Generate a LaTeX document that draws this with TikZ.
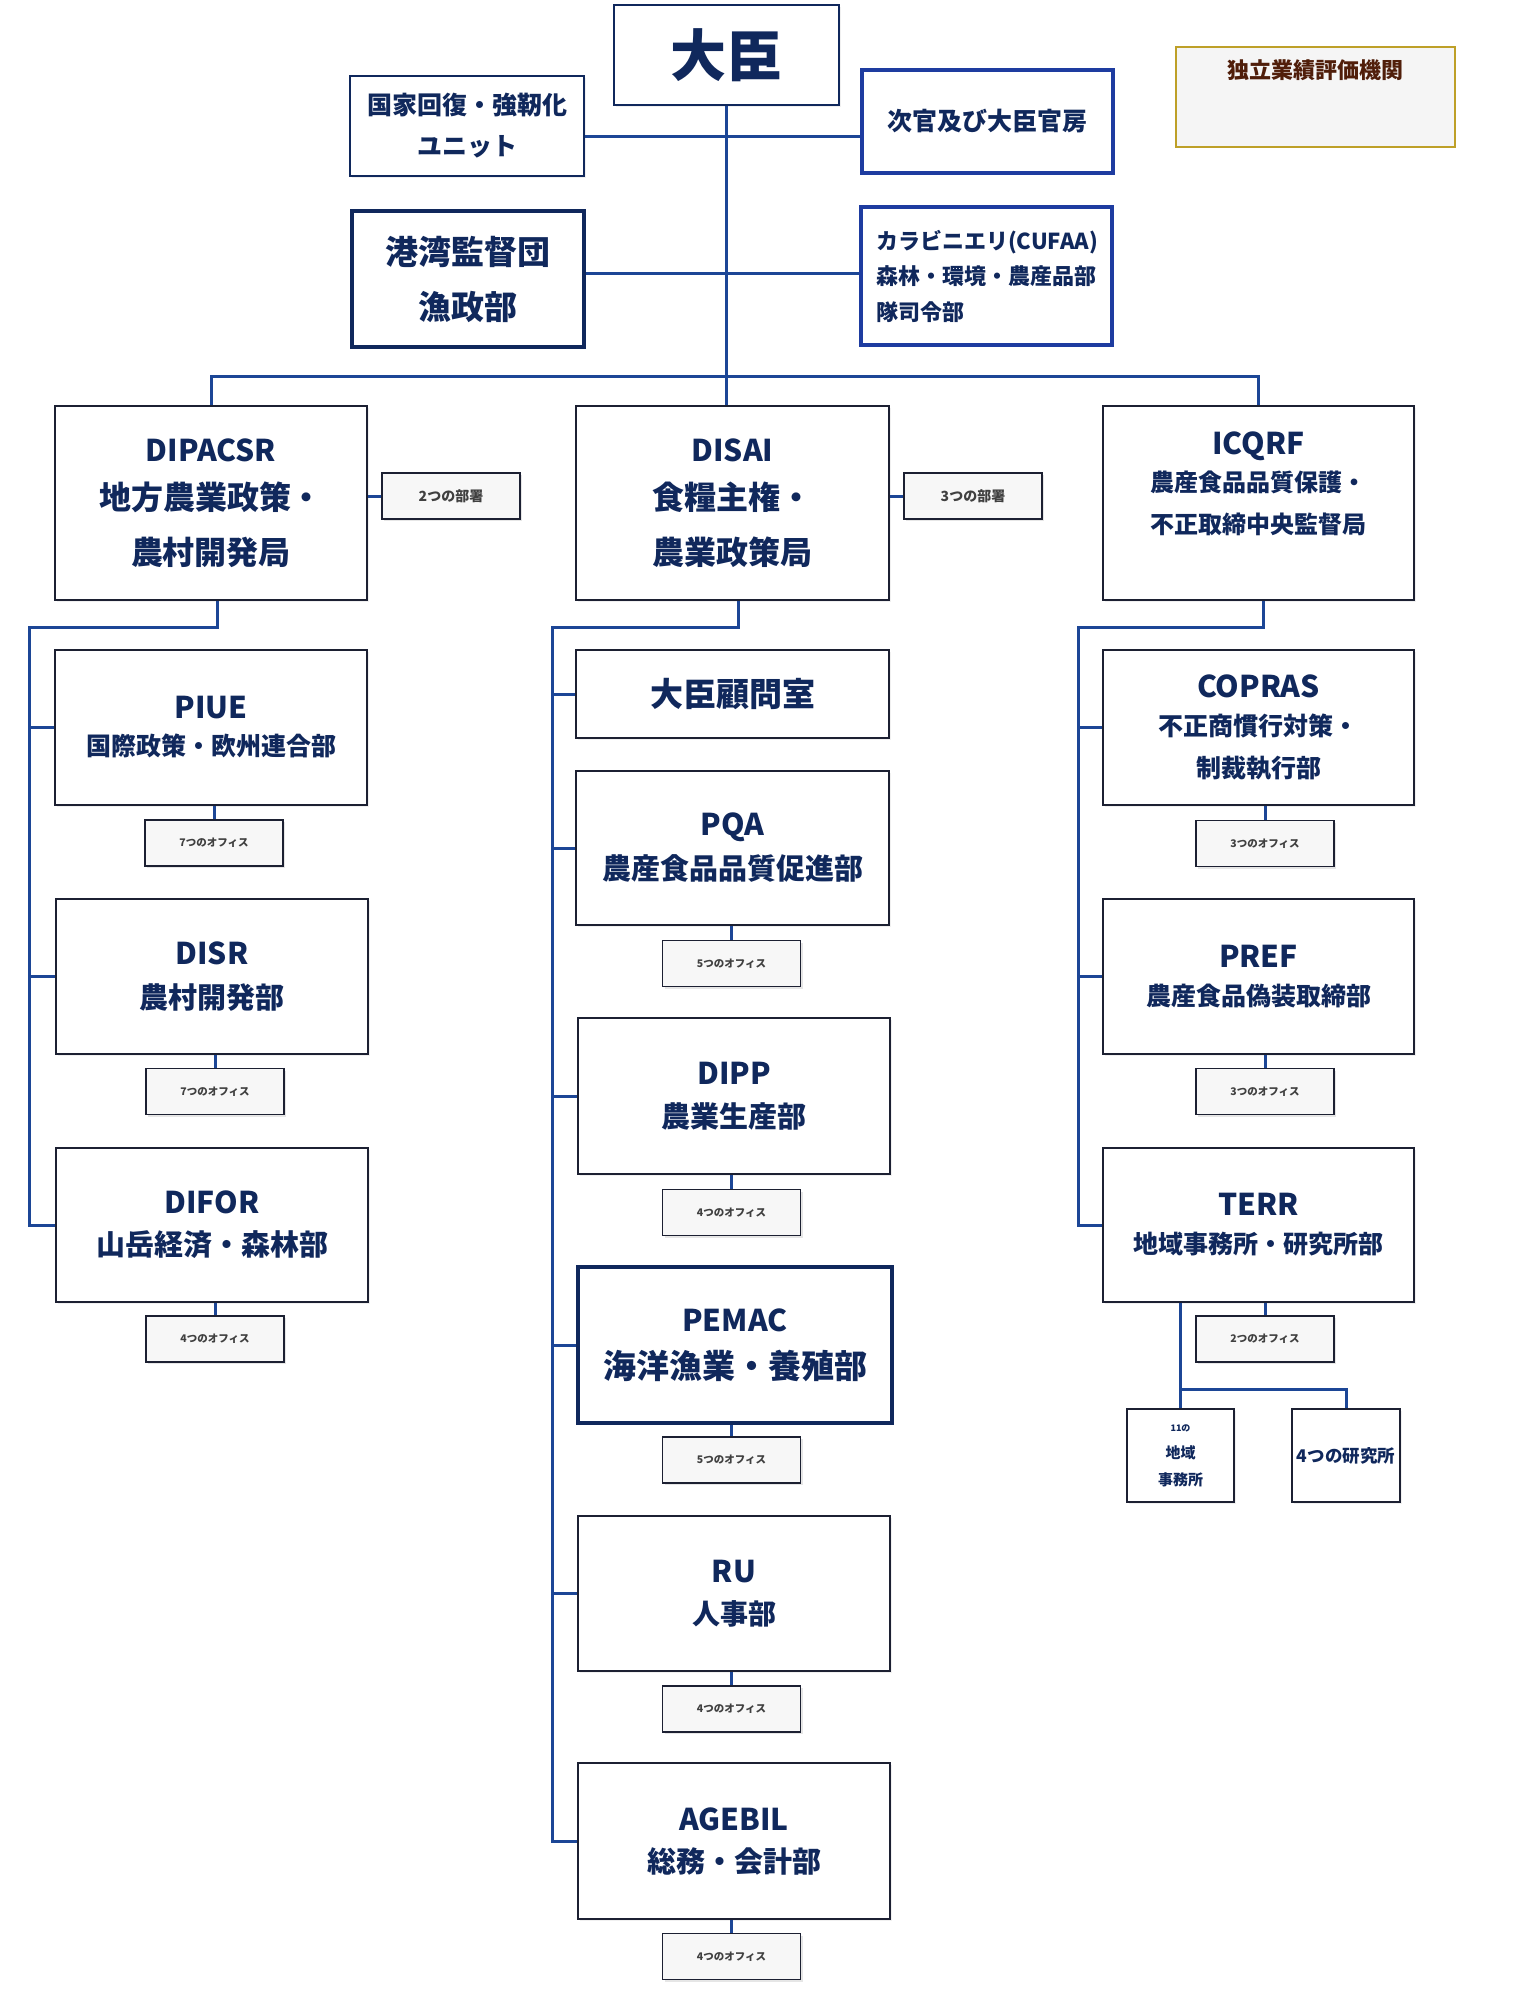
\documentclass[tikz,border=0pt]{standalone}
\usepackage{fontspec}
\setmainfont{Noto Sans CJK JP}
\usetikzlibrary{shadows}

\definecolor{navy}{RGB}{16,40,92}
\definecolor{boxline}{RGB}{28,32,50}
\definecolor{linkblue}{RGB}{28,70,150}
\definecolor{frameblue}{RGB}{30,60,160}
\definecolor{oivgold}{RGB}{190,160,40}
\definecolor{oivtext}{RGB}{80,30,10}

\newcommand\acr[1]{{\fontsize{30}{30}\selectfont #1}}

\begin{document}
\begin{tikzpicture}[x=1pt,y=-1pt,
    box/.style={draw=boxline, line width=2pt, fill=white, inner sep=0pt, align=center, text=navy,
      drop shadow={opacity=0.12, shadow xshift=2pt, shadow yshift=-2pt}},
    office/.style={draw=boxline, line width=1.8pt, fill=gray!6, minimum width=138pt, minimum height=46pt,
      inner sep=0pt, text=black!75, font=\fontsize{10.5}{12}\selectfont\bfseries,
      drop shadow={opacity=0.2, shadow xshift=2pt, shadow yshift=-2pt}},
    conn/.style={linkblue, line width=3pt},
  ]
    \useasboundingbox (0,0) rectangle (1517,1990);

    % Minister and staff
    \node[box, draw=navy, line width=2.5pt, minimum width=225pt, minimum height=100pt,
      font=\fontsize{56}{60}\selectfont\bfseries] (minister) at (726.5,55) {大臣};
    \node[box, draw=navy, minimum width=234pt, minimum height=100pt,
      font=\fontsize{25}{41}\selectfont\bfseries] (unit) at (467,126) {国家回復・強靭化\\ユニット};
    \node[box, draw=frameblue, line width=3.5pt, minimum width=251pt, minimum height=103pt,
      font=\fontsize{25}{30}\selectfont\bfseries] (vice) at (987.5,121.5) {次官及び大臣官房};
    \node[box, draw=navy, line width=4.5pt, minimum width=232pt, minimum height=136pt,
      font=\fontsize{33}{55}\selectfont\bfseries] (harbor) at (468,279) {港湾監督団\\漁政部};
    \node[box, draw=frameblue, line width=3.5pt, minimum width=251pt, minimum height=138pt,
      align=left, text width=221pt, inner xsep=15pt,
      font=\fontsize{22}{35.5}\selectfont\bfseries] (carab) at (986.5,276) {カラビニエリ(CUFAA)\\森林・環境・農産品部\\隊司令部};
    \node[draw=oivgold, line width=2pt, fill=gray!8, minimum width=279pt, minimum height=100pt,
      inner sep=0pt, text=oivtext, font=\fontsize{22}{26}\selectfont\bfseries] (oiv) at (1315.5,97)
      {独立業績評価機関\rule[-56pt]{0pt}{0pt}};

    % Departments
    \node[box, minimum width=312pt, minimum height=194pt, font=\fontsize{32}{55}\selectfont\bfseries]
      (dipacsr) at (211,503) {\acr{DIPACSR}\\[-7pt]地方農業政策・\\農村開発局};
    \node[box, minimum width=313pt, minimum height=194pt, font=\fontsize{32}{55}\selectfont\bfseries]
      (disai) at (732.5,503) {\acr{DISAI}\\[-7pt]食糧主権・\\農業政策局};
    \node[box, minimum width=311pt, minimum height=194pt, font=\fontsize{24}{42}\selectfont\bfseries]
      (icqrf) at (1258.5,503) {\acr{ICQRF}\\[-5pt]農産食品品質保護・\\不正取締中央監督局\rule[-41pt]{0pt}{0pt}};
    \node[office, font=\fontsize{14}{16}\selectfont\bfseries] (dept1) at (451,496) {2つの部署};
    \node[office, font=\fontsize{14}{16}\selectfont\bfseries] (dept2) at (973,496) {3つの部署};

    % Left column
    \node[box, minimum width=312pt, minimum height=155pt, font=\fontsize{25}{37}\selectfont\bfseries]
      (piue) at (211,727.5) {\acr{PIUE}\\国際政策・欧州連合部};
    \node[office] (off1) at (214,843) {7つのオフィス};
    \node[box, minimum width=312pt, minimum height=155pt, font=\fontsize{29}{44}\selectfont\bfseries]
      (disr) at (212,976.5) {\acr{DISR}\\農村開発部};
    \node[office] (off2) at (215,1091.5) {7つのオフィス};
    \node[box, minimum width=312pt, minimum height=154pt, font=\fontsize{29}{42}\selectfont\bfseries]
      (difor) at (212,1225) {\acr{DIFOR}\\山岳経済・森林部};
    \node[office] (off3) at (215,1339) {4つのオフィス};

    % Centre column
    \node[box, minimum width=313pt, minimum height=88pt, font=\fontsize{33}{40}\selectfont\bfseries]
      (advisor) at (732.5,694) {大臣顧問室};
    \node[box, minimum width=313pt, minimum height=154pt, font=\fontsize{29}{44}\selectfont\bfseries]
      (pqa) at (732.5,848) {\acr{PQA}\\農産食品品質促進部};
    \node[office] (off4) at (731.5,963.5) {5つのオフィス};
    \node[box, minimum width=312pt, minimum height=156pt, font=\fontsize{29}{43}\selectfont\bfseries]
      (dipp) at (734,1096) {\acr{DIPP}\\農業生産部};
    \node[office] (off5) at (731.5,1212.5) {4つのオフィス};
    \node[box, draw=navy, line width=4.5pt, minimum width=314pt, minimum height=156pt,
      font=\fontsize{33}{47}\selectfont\bfseries] (pemac) at (735,1345) {\acr{PEMAC}\\海洋漁業・養殖部};
    \node[office] (off6) at (731.5,1460) {5つのオフィス};
    \node[box, minimum width=312pt, minimum height=155pt, font=\fontsize{28}{42}\selectfont\bfseries]
      (ru) at (734,1593.5) {\acr{RU}\\人事部};
    \node[office] (off7) at (731.5,1709) {4つのオフィス};
    \node[box, minimum width=312pt, minimum height=156pt, font=\fontsize{29}{42}\selectfont\bfseries]
      (agebil) at (734,1841) {\acr{AGEBIL}\\総務・会計部};
    \node[office] (off8) at (731.5,1956.5) {4つのオフィス};

    % Right column
    \node[box, minimum width=311pt, minimum height=155pt, font=\fontsize{25}{42}\selectfont\bfseries]
      (copras) at (1258.5,727.5) {\acr{COPRAS}\\[-4.5pt]不正商慣行対策・\\制裁執行部};
    \node[office] (off9) at (1265,843.5) {3つのオフィス};
    \node[box, minimum width=311pt, minimum height=155pt, font=\fontsize{25}{38}\selectfont\bfseries]
      (pref) at (1258.5,976.5) {\acr{PREF}\\農産食品偽装取締部};
    \node[office] (off10) at (1265,1091.5) {3つのオフィス};
    \node[box, minimum width=311pt, minimum height=154pt, font=\fontsize{25}{38}\selectfont\bfseries]
      (terr) at (1258.5,1225) {\acr{TERR}\\地域事務所・研究所部};
    \node[office] (off11) at (1265,1339) {2つのオフィス};
    \node[box, minimum width=107pt, minimum height=93pt, font=\fontsize{15}{27}\selectfont\bfseries]
      (reg) at (1180.5,1455.5) {{\fontsize{9}{9}\selectfont 11の}\\地域\\事務所};
    \node[box, minimum width=108pt, minimum height=93pt, font=\fontsize{17.5}{22}\selectfont\bfseries]
      (res) at (1346,1455.5) {4つの研究所};

    % Top connectors
    \coordinate (j1) at (725,136);
    \coordinate (j2) at (725,273);
    \coordinate (bus) at (725,376);
    \draw[conn] (minister.south) -- (minister.south |- disai.north);
    \draw[conn] (unit.east |- j1) -- (vice.west |- j1);
    \draw[conn] (harbor.east |- j2) -- (carab.west |- j2);
    \draw[conn] (dipacsr.north) |- (bus) -| (icqrf.north);
    \draw[conn] (dept1.west) -- (dept1.west -| dipacsr.east);
    \draw[conn] (dept2.west) -- (dept2.west -| disai.east);

    % Left column connectors
    \coordinate (lbus) at (29,627);
    \draw[conn] ([xshift=6pt]dipacsr.south) |- (lbus) |- (difor.west);
    \draw[conn] (lbus) |- (piue.west);
    \draw[conn] (lbus) |- (disr.west);
    \draw[conn] (off1.north) -- (off1.north |- piue.south);
    \draw[conn] (off2.north) -- (off2.north |- disr.south);
    \draw[conn] (off3.north) -- (off3.north |- difor.south);

    % Centre column connectors
    \coordinate (cbus) at (552,627);
    \draw[conn] ([xshift=6pt]disai.south) |- (cbus) |- (agebil.west);
    \draw[conn] (cbus) |- (advisor.west);
    \draw[conn] (cbus) |- (pqa.west);
    \draw[conn] (cbus) |- (dipp.west);
    \draw[conn] (cbus) |- (pemac.west);
    \draw[conn] (cbus) |- (ru.west);
    \draw[conn] (off4.north) -- (off4.north |- pqa.south);
    \draw[conn] (off5.north) -- (off5.north |- dipp.south);
    \draw[conn] (off6.north) -- (off6.north |- pemac.south);
    \draw[conn] (off7.north) -- (off7.north |- ru.south);
    \draw[conn] (off8.north) -- (off8.north |- agebil.south);

    % Right column connectors
    \coordinate (rbus) at (1078,627);
    \draw[conn] ([xshift=5pt]icqrf.south) |- (rbus) |- (terr.west);
    \draw[conn] (rbus) |- (copras.west);
    \draw[conn] (rbus) |- (pref.west);
    \draw[conn] (off9.north) -- (off9.north |- copras.south);
    \draw[conn] (off10.north) -- (off10.north |- pref.south);
    \draw[conn] (off11.north) -- (off11.north |- terr.south);
    \coordinate (tbus) at (1182,1389);
    \draw[conn] (reg.north) -- (reg.north |- terr.south);
    \draw[conn] (reg.north |- tbus) -| (res.north);

\end{tikzpicture}
\end{document}
